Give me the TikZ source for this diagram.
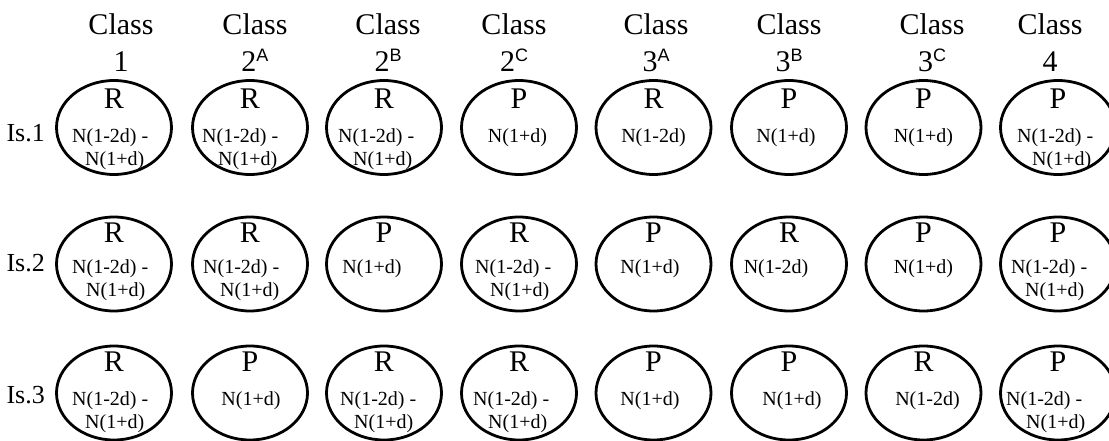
\documentclass[tikz,border=0pt]{standalone}
\usepackage{fontspec}
\setmainfont{Liberation Serif}
\newfontfamily\supfont{Liberation Sans}
\usetikzlibrary{shapes.geometric}
\tikzset{
  oval/.style={draw, ellipse, line width=2.8pt, minimum width=115pt, minimum height=94pt, inner sep=0pt},
  cls/.style={font=\fontsize{30}{30}\selectfont, inner sep=0pt, anchor=base},
  role/.style={font=\fontsize{30}{30}\selectfont, inner sep=0pt, anchor=base},
  ntext/.style={font=\fontsize{20}{20}\selectfont, inner sep=0pt, anchor=base west},
  nc/.style={font=\fontsize{20}{20}\selectfont, inner sep=0pt, anchor=base},
  isl/.style={font=\fontsize{26}{26}\selectfont, inner sep=0pt, anchor=base east},
}
\newcommand\rowset[3]{\def\oR{#1}\def\oA{#2}\def\oB{#3}}
\newcommand\cellNN[6]{%
  \node[oval] (#1) at (#2,#3) {};
  \node[role, yshift={-(\oR)*1pt}] (#1-k) at (#1.center) {#4};
  \node[ntext, xshift=#5pt, yshift={-(\oA)*1pt}] (#1-a) at (#1.center) {N(1-2d) -};
  \node[ntext, xshift=#6pt, yshift={-(\oB)*1pt}] (#1-b) at (#1.center) {N(1+d)};
}
\newcommand\cellN[6]{%
  \node[oval] (#1) at (#2,#3) {};
  \node[role, yshift={-(\oR)*1pt}] (#1-k) at (#1.center) {#4};
  \node[nc, xshift=#6pt, yshift={-(\oA)*1pt}] (#1-a) at (#1.center) {#5};
}
\newcommand\supl[1]{\raisebox{10pt}{\supfont\fontsize{18}{18}\selectfont #1}}
\begin{document}
\begin{tikzpicture}[x=1pt,y=-1pt]
\useasboundingbox (0,0) rectangle (1109,441);
% column headers
\foreach \n/\x/\lab in {h1/121/1, h2/255/2\supl{A}, h3/388/2\supl{B}, h4/514/2\supl{C},
    h5/656/3\supl{A}, h6/789/3\supl{B}, h7/932/3\supl{C}, h8/1050/4}{
  \node[cls] (\n) at (\x,35) {Class};
  \node[cls] (\n-num) at (\x,72) {\lab};
}
% row labels
\node[isl] (is1) at (45,141.5) {Is.1};
\node[isl] (is2) at (45,271) {Is.2};
\node[isl] (is3) at (45,403) {Is.3};
% row 1
\rowset{-19}{15}{38}
\cellNN{a1}{114}{127.5}{R}{-42}{-29}
\cellNN{a2}{250}{127.5}{R}{-48}{-32}
\cellNN{a3}{384}{127.5}{R}{-46}{-31}
\cellN{a4}{519}{127.5}{P}{N(1+d)}{-1.5}
\cellN{a5}{653.5}{127.5}{R}{N(1-2d)}{0}
\cellN{a6}{789}{127.5}{P}{N(1+d)}{-3}
\cellN{a7}{923.5}{127.5}{P}{N(1+d)}{0}
\cellNN{a8}{1058}{127.5}{P}{-41}{-26}
% row 2
\rowset{-22}{9}{32}
\cellNN{b1}{114}{264}{R}{-42}{-28}
\cellNN{b2}{250}{264}{R}{-47}{-30}
\cellN{b3}{384}{264}{P}{N(1+d)}{-12}
\cellNN{b4}{519}{264}{R}{-44}{-29}
\cellN{b5}{653.5}{264}{P}{N(1+d)}{-3.5}
\cellN{b6}{789}{264}{R}{N(1-2d)}{-13}
\cellN{b7}{923.5}{264}{P}{N(1+d)}{0}
\cellNN{b8}{1058}{264}{P}{-47}{-33}
% row 3
\rowset{-22}{12}{35}
\cellNN{c1}{114}{393}{R}{-42}{-29}
\cellN{c2}{250}{393}{P}{N(1+d)}{1}
\cellNN{c3}{384}{393}{R}{-44}{-30}
\cellNN{c4}{519}{393}{R}{-46}{-31}
\cellN{c5}{653.5}{393}{P}{N(1+d)}{-3.5}
\cellN{c6}{789}{393}{P}{N(1+d)}{3}
\cellN{c7}{923.5}{393}{R}{N(1-2d)}{4}
\cellNN{c8}{1058}{393}{P}{-52}{-32}
\end{tikzpicture}
\end{document}
